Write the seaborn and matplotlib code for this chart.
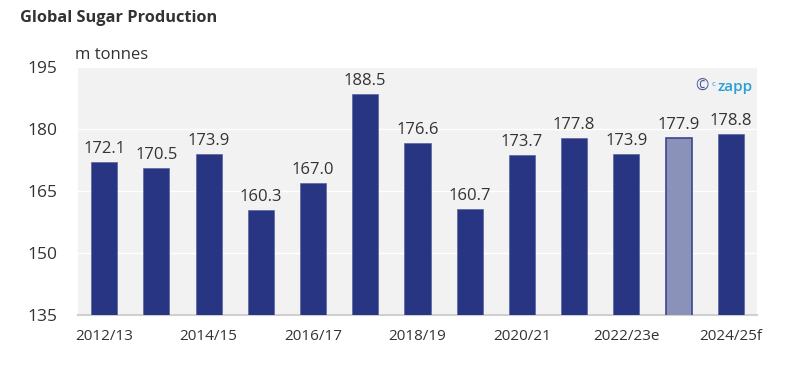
import seaborn as sns
import matplotlib.pyplot as plt
import pandas as pd

seasons = ["2012/13", "2013/14", "2014/15", "2015/16", "2016/17", "2017/18", "2018/19",
           "2019/20", "2020/21", "2021/22", "2022/23e", "2023/24e", "2024/25f"]
production = [172.1, 170.5, 173.9, 160.3, 167.0, 188.5, 176.6,
              160.7, 173.7, 177.8, 173.9, 177.9, 178.8]
estimate_season = "2023/24e"
yticks = [135, 150, 165, 180, 195]

df = pd.DataFrame({"season": seasons, "production": production})

sns.set_style("white")
plt.rcParams["font.family"] = ["Open Sans", "DejaVu Sans"]

fig = plt.figure(figsize=(7.99, 3.81), dpi=100)
ax = fig.add_axes([78 / 799, 1 - 315 / 381, (757 - 78) / 799, (315 - 67) / 381])
ax.set_facecolor("#f2f2f2")

dark = "#283583"
light = "#8a92b9"
palette = {s: (light if s == estimate_season else dark) for s in seasons}
sns.barplot(data=df, x="season", y="production", hue="season", palette=palette,
            width=0.5, legend=False, ax=ax, zorder=3, saturation=1)

for patch, s in zip(ax.patches, seasons):
    if s == estimate_season:
        patch.set_edgecolor("#3c4690")
        patch.set_linewidth(1.2)
    else:
        patch.set_edgecolor("#5b64a0")
        patch.set_linewidth(0.5)

for i, v in enumerate(production):
    ax.text(i, v + 1.2, f"{v:.1f}", ha="center", va="bottom", fontsize=12, color="#333333", zorder=4)

ax.set_ylim(135, 195)
ax.set_xlim(-0.5, len(seasons) - 0.5)
ax.set_yticks(yticks)
ax.set_yticklabels([str(t) for t in yticks], fontsize=12.5, color="#333333")
ax.yaxis.grid(True, color="white", linewidth=1, zorder=1)
ax.set_axisbelow(True)

ax.set_xticks(range(0, len(seasons), 2))
ax.set_xticklabels(seasons[::2], fontsize=11, color="#333333")
ax.set_xticks([i - 0.5 for i in range(len(seasons) + 1)], minor=True)
ax.tick_params(axis="x", which="major", length=0, pad=10)
ax.tick_params(axis="x", which="minor", length=6, color="#d0d0d0", width=1)
ax.tick_params(axis="y", length=0, pad=15)
ax.set_xlabel("")
ax.set_ylabel("")

for side in ["top", "right", "left"]:
    ax.spines[side].set_visible(False)
ax.spines["bottom"].set_color("#d0d0d0")
ax.spines["bottom"].set_linewidth(1.5)

fig.text(20 / 799, 1 - 18 / 381, "Global Sugar Production", fontsize=11.8, fontweight="bold",
         color="#333333", va="center", ha="left")
fig.text(75 / 799, 1 - 55 / 381, "m tonnes", fontsize=12, color="#333333", va="center", ha="left")
fig.text(695 / 799, 1 - 87 / 381, "©", fontsize=11.5, color="#4a5599", va="center", ha="left")
fig.text(712 / 799, 1 - 84 / 381, "c", fontsize=6, color="#2a9fd6", va="center", ha="left")
fig.text(718 / 799, 1 - 87 / 381, "zapp", fontsize=11, color="#2a9fd6", va="center", ha="left",
         fontweight="semibold")

fig.savefig("out.png", dpi=100, facecolor="white")
